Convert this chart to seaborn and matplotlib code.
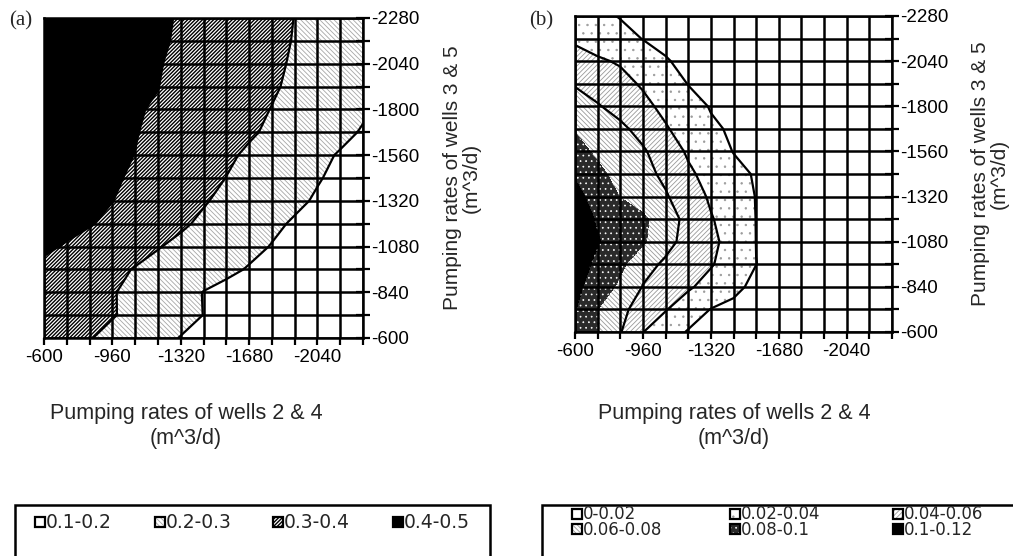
import numpy as np
import matplotlib
matplotlib.use('Agg')
import matplotlib.pyplot as plt
import seaborn as sns
from matplotlib.patches import Rectangle

sns.set_theme(style='white')
plt.rcParams['font.family'] = ['Liberation Sans', 'DejaVu Sans']

# ── data ────────────────────────────────────────────────────────────────────
# pumping rates on the 15 x 15 grid (m^3/d)
RATES = [-600, -720, -840, -960, -1080, -1200, -1320, -1440,
         -1560, -1680, -1800, -1920, -2040, -2160, -2280]
X_TICKS = [-600, -960, -1320, -1680, -2040]
Y_TICKS = [-600, -840, -1080, -1320, -1560, -1800, -2040, -2280]

# (a) rows = wells 3&5 rate from -600 (first row) to -2280, cols = wells 2&4 rate
CONC_A = [
    [0.350, 0.327, 0.304, 0.278, 0.250, 0.223, 0.197, 0.180, 0.165, 0.150, 0.140, 0.130, 0.120, 0.110, 0.105],
    [0.360, 0.342, 0.323, 0.305, 0.280, 0.254, 0.227, 0.199, 0.182, 0.166, 0.152, 0.140, 0.130, 0.120, 0.110],
    [0.370, 0.348, 0.327, 0.305, 0.279, 0.252, 0.225, 0.198, 0.180, 0.165, 0.150, 0.140, 0.130, 0.120, 0.115],
    [0.385, 0.363, 0.340, 0.318, 0.296, 0.276, 0.256, 0.235, 0.215, 0.195, 0.180, 0.165, 0.150, 0.140, 0.130],
    [0.411, 0.394, 0.372, 0.349, 0.327, 0.304, 0.283, 0.261, 0.240, 0.218, 0.197, 0.180, 0.165, 0.150, 0.140],
    [0.435, 0.420, 0.405, 0.384, 0.359, 0.335, 0.311, 0.287, 0.263, 0.239, 0.214, 0.192, 0.175, 0.160, 0.150],
    [0.445, 0.431, 0.416, 0.401, 0.378, 0.354, 0.330, 0.306, 0.283, 0.260, 0.237, 0.214, 0.192, 0.175, 0.160],
    [0.450, 0.439, 0.424, 0.409, 0.390, 0.368, 0.346, 0.323, 0.299, 0.277, 0.253, 0.229, 0.205, 0.184, 0.170],
    [0.460, 0.444, 0.429, 0.414, 0.399, 0.377, 0.355, 0.334, 0.312, 0.289, 0.265, 0.241, 0.217, 0.194, 0.180],
    [0.460, 0.448, 0.433, 0.418, 0.403, 0.385, 0.366, 0.347, 0.328, 0.309, 0.288, 0.264, 0.241, 0.218, 0.194],
    [0.470, 0.456, 0.441, 0.426, 0.404, 0.395, 0.376, 0.356, 0.337, 0.318, 0.298, 0.276, 0.254, 0.232, 0.210],
    [0.470, 0.460, 0.440, 0.430, 0.415, 0.401, 0.382, 0.363, 0.345, 0.326, 0.308, 0.287, 0.265, 0.242, 0.220],
    [0.480, 0.460, 0.450, 0.430, 0.420, 0.404, 0.386, 0.368, 0.349, 0.331, 0.312, 0.293, 0.272, 0.251, 0.230],
    [0.480, 0.470, 0.450, 0.440, 0.420, 0.410, 0.391, 0.372, 0.353, 0.335, 0.316, 0.297, 0.278, 0.259, 0.240],
    [0.490, 0.470, 0.460, 0.440, 0.430, 0.410, 0.395, 0.376, 0.357, 0.338, 0.319, 0.299, 0.283, 0.267, 0.250],
]

CONC_B = [
    [0.090, 0.0799, 0.0611, 0.0404, 0.0284, 0.0187, 0.016, 0.014, 0.013, 0.012, 0.011, 0.010, 0.009, 0.008, 0.007],
    [0.101, 0.0799, 0.0646, 0.0522, 0.0411, 0.0294, 0.0195, 0.017, 0.015, 0.013, 0.012, 0.011, 0.010, 0.009, 0.008],
    [0.105, 0.0907, 0.0764, 0.0592, 0.0508, 0.0425, 0.033, 0.023, 0.017, 0.015, 0.013, 0.012, 0.011, 0.010, 0.009],
    [0.110, 0.0956, 0.0844, 0.0667, 0.0569, 0.0492, 0.0415, 0.0315, 0.0201, 0.0175, 0.016, 0.014, 0.012, 0.011, 0.010],
    [0.115, 0.1014, 0.0918, 0.0827, 0.066, 0.0535, 0.0442, 0.0331, 0.0198, 0.018, 0.016, 0.014, 0.012, 0.011, 0.010],
    [0.112, 0.0979, 0.0907, 0.0836, 0.070, 0.0538, 0.0413, 0.0316, 0.0197, 0.017, 0.015, 0.013, 0.012, 0.011, 0.010],
    [0.106, 0.0921, 0.0795, 0.0709, 0.0618, 0.0496, 0.0375, 0.028, 0.0195, 0.017, 0.015, 0.013, 0.012, 0.011, 0.010],
    [0.098, 0.0841, 0.0742, 0.0658, 0.0561, 0.0431, 0.0338, 0.0248, 0.0185, 0.016, 0.014, 0.012, 0.011, 0.010, 0.009],
    [0.086, 0.077, 0.0696, 0.0622, 0.0503, 0.0376, 0.0283, 0.0195, 0.016, 0.014, 0.012, 0.011, 0.010, 0.009, 0.008],
    [0.079, 0.0714, 0.0638, 0.0539, 0.0417, 0.0319, 0.0224, 0.018, 0.015, 0.013, 0.011, 0.010, 0.009, 0.008, 0.007],
    [0.066, 0.0614, 0.0536, 0.0445, 0.0355, 0.0264, 0.019, 0.016, 0.014, 0.012, 0.010, 0.009, 0.008, 0.007, 0.006],
    [0.059, 0.052, 0.0453, 0.038, 0.0289, 0.0195, 0.016, 0.014, 0.012, 0.010, 0.009, 0.008, 0.007, 0.006, 0.005],
    [0.045, 0.0422, 0.0383, 0.0296, 0.0209, 0.017, 0.014, 0.012, 0.010, 0.009, 0.008, 0.007, 0.006, 0.005, 0.004],
    [0.038, 0.032, 0.026, 0.0195, 0.017, 0.014, 0.012, 0.010, 0.009, 0.008, 0.007, 0.006, 0.005, 0.004, 0.004],
    [0.030, 0.0246, 0.019, 0.016, 0.013, 0.011, 0.009, 0.008, 0.007, 0.006, 0.005, 0.004, 0.004, 0.003, 0.003],
]

LEVELS_A = [0.1, 0.2, 0.3, 0.4, 0.5]
LABELS_A = ['0.1-0.2', '0.2-0.3', '0.3-0.4', '0.4-0.5']
LINES_A = [0.2, 0.3, 0.4]

LEVELS_B = [0.0, 0.02, 0.04, 0.06, 0.08, 0.1, 0.12]
LABELS_B = ['0-0.02', '0.02-0.04', '0.04-0.06', '0.06-0.08', '0.08-0.1', '0.1-0.12']
LINES_B = [0.02, 0.04, 0.06]

# (face, hatch, hatch colour, hatch linewidth) for each band
STYLE_A = [('white', None, 'black', 0.8),
           ('white', '\\' * 7, '#a6a6a6', 0.6),
           ('white', '/' * 9, 'black', 1.0),
           ('black', None, 'black', 0.8)]
STYLE_B = [('white', None, 'black', 0.8),
           ('white', '..', '#9a9a9a', 0.5),
           ('white', '/' * 7, '#999999', 0.6),
           ('white', '\\' * 7, '#999999', 0.6),
           ('#2a2a2a', '...', 'white', 0.5),
           ('black', None, 'black', 0.8)]

W, H = 1013, 556
fig = plt.figure(figsize=(W / 100, H / 100), dpi=100)
LEG_FONT = ['DejaVu Sans']


def px_box(l, t, r, b):
    return [l / W, 1 - b / H, (r - l) / W, (b - t) / H]


def draw_panel(ax, conc, levels, styles, line_levels):
    z = np.array(conc)
    ax.contourf(RATES, RATES, z, levels=levels, colors=[s[0] for s in styles],
                antialiased=False)
    for i, (face, hatch, hcol, hlw) in enumerate(styles):
        if hatch is None:
            continue
        with plt.rc_context({'hatch.color': hcol, 'hatch.linewidth': hlw}):
            cs = ax.contourf(RATES, RATES, z, levels=[levels[i], levels[i + 1]],
                             colors='none', hatches=[hatch])
            cs.set_edgecolor(hcol)
            cs.set_linewidth(0)
    ax.contour(RATES, RATES, z, levels=line_levels, colors='black', linewidths=1.6)

    ax.set_xlim(-600, -2280)
    ax.set_ylim(-600, -2280)
    ax.set_xticks(X_TICKS)
    ax.set_xticks(RATES, minor=True)
    ax.set_yticks(Y_TICKS)
    ax.set_yticks(RATES, minor=True)
    ax.set_xticklabels([str(v) for v in X_TICKS])
    ax.set_yticklabels([str(v) for v in Y_TICKS])
    ax.yaxis.tick_right()
    ax.set_axisbelow(False)
    ax.grid(True, which='both', color='black', linewidth=1.8)
    ax.tick_params(axis='x', which='both', direction='out', length=5, width=1.6,
                   bottom=True, top=False, labelsize=13.5, pad=3, colors='black')
    ax.tick_params(axis='y', which='both', direction='inout', length=10, width=1.6,
                   right=True, left=False, labelsize=13.5, pad=1, colors='black')
    for sp in ax.spines.values():
        sp.set_color('black')
        sp.set_linewidth(1.8)


ax_a = fig.add_axes(px_box(44, 18, 363, 338))
ax_b = fig.add_axes(px_box(575, 16, 892, 332))
draw_panel(ax_a, CONC_A, LEVELS_A, STYLE_A, LINES_A)
draw_panel(ax_b, CONC_B, LEVELS_B, STYLE_B, LINES_B)

serif = ['Liberation Serif', 'DejaVu Serif']
fig.text(21 / W, 1 - 21 / H, '(a)', family=serif, fontsize=15, ha='center', va='center')
fig.text(541 / W, 1 - 21 / H, '(b)', family=serif, fontsize=15, ha='center', va='center')

xlab = 'Pumping rates of wells 2 & 4\n(m^3/d)'
ylab = 'Pumping rates of wells 3 & 5\n(m^3/d)'
for cx in (186, 734):
    fig.text(cx / W, 1 - 426 / H, xlab, fontsize=15.5, ha='center', va='center',
             multialignment='center', linespacing=1.22)
for cx, cy in ((462, 178), (990, 174)):
    fig.text(cx / W, 1 - cy / H, ylab, fontsize=15, ha='center', va='center',
             rotation=90, multialignment='center', linespacing=0.98)


def legend_box(x, y, style):
    face, hatch, hcol, hlw = style
    s = 10
    with plt.rc_context({'hatch.linewidth': hlw}):
        fig.add_artist(Rectangle((x / W, 1 - (y + s / 2) / H), s / W, s / H,
                                 transform=fig.transFigure, facecolor=face,
                                 edgecolor=hcol, hatch=hatch, lw=0))
    fig.add_artist(Rectangle((x / W, 1 - (y + s / 2) / H), s / W, s / H,
                             transform=fig.transFigure, facecolor='none',
                             edgecolor='black', lw=1.6))


# legend (a): one row
fig.add_artist(Rectangle((15 / W, 1 - 570 / H), 475 / W, 65 / H, transform=fig.transFigure,
                         facecolor='none', edgecolor='black', lw=1.8))
for x, lab, st in zip((35, 155, 273, 393), LABELS_A, STYLE_A):
    legend_box(x, 522, st)
    fig.text((x + 11) / W, 1 - 522 / H, lab, family=LEG_FONT, fontsize=13.5,
             ha='left', va='center')

# legend (b): three columns of two entries
fig.add_artist(Rectangle((542 / W, 1 - 570 / H), 490 / W, 65 / H, transform=fig.transFigure,
                         facecolor='none', edgecolor='black', lw=1.8))
for k, x in enumerate((572, 730, 893)):
    legend_box(x, 514, STYLE_B[k])
    legend_box(x, 529, STYLE_B[k + 3])
    fig.text((x + 11) / W, 1 - 522 / H, LABELS_B[k] + '\n' + LABELS_B[k + 3],
             family=LEG_FONT, fontsize=12, ha='left', va='center', linespacing=0.9)

fig.savefig('out.png', dpi=100, facecolor='white')
